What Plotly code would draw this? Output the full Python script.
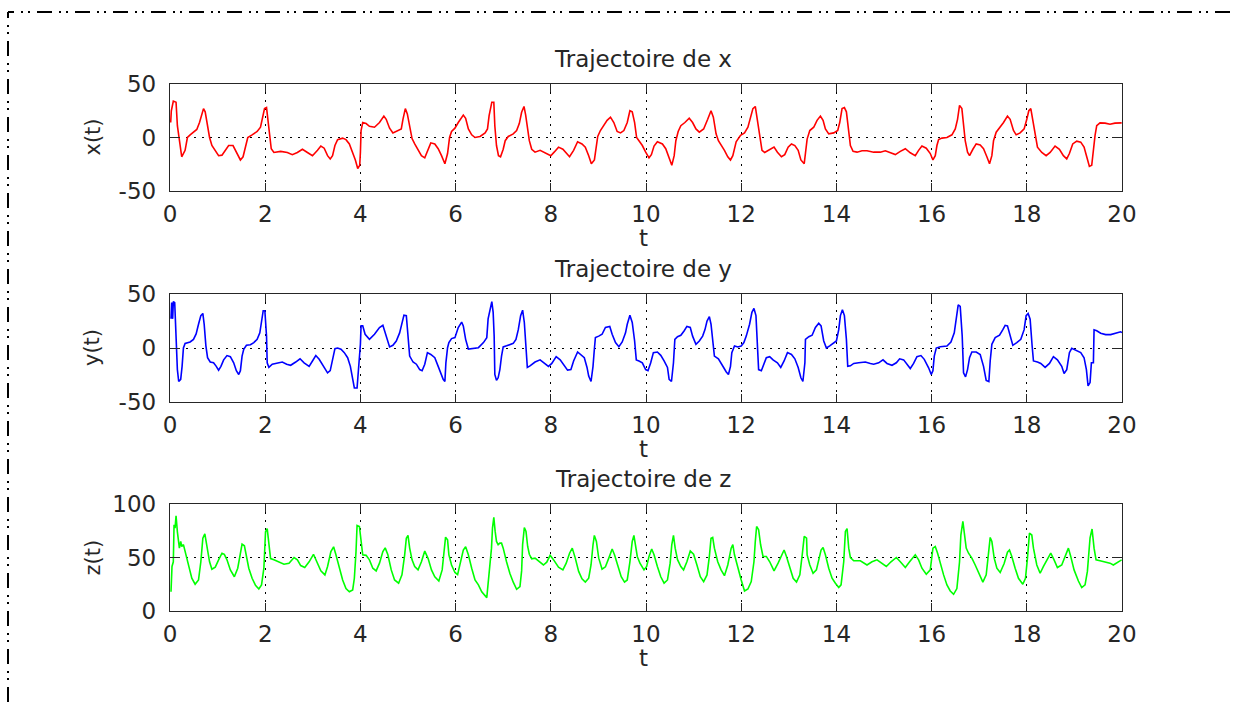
import plotly.graph_objects as go
from plotly.subplots import make_subplots

# ---- x(t) trajectory ----
t_x = [0.014, 0.028, 0.07, 0.127, 0.155, 0.197, 0.246, 0.317, 0.366, 0.423, 0.493, 0.563, 0.62, 0.669, 0.704,
       0.739, 0.775, 0.831, 0.88, 0.951, 1.021, 1.092, 1.162, 1.232, 1.324, 1.394, 1.479, 1.535, 1.592, 1.634,
       1.725, 1.831, 1.901, 1.944, 1.986, 2.028, 2.056, 2.099, 2.127, 2.183, 2.324, 2.465, 2.57, 2.676, 2.782,
       2.887, 2.993, 3.099, 3.169, 3.239, 3.31, 3.366, 3.415, 3.465, 3.521, 3.627, 3.697, 3.768, 3.838, 3.894,
       3.944, 3.986, 4.0, 4.014, 4.049, 4.12, 4.19, 4.296, 4.401, 4.493, 4.542, 4.613, 4.683, 4.789, 4.859,
       4.894, 4.944, 4.986, 5.035, 5.085, 5.141, 5.211, 5.282, 5.352, 5.408, 5.479, 5.563, 5.634, 5.704, 5.775,
       5.831, 5.873, 5.915, 5.986, 6.056, 6.162, 6.211, 6.268, 6.338, 6.408, 6.514, 6.62, 6.67, 6.704, 6.761,
       6.803, 6.824, 6.859, 6.901, 6.944, 7.0, 7.042, 7.106, 7.211, 7.282, 7.338, 7.387, 7.437, 7.472, 7.507,
       7.549, 7.599, 7.669, 7.775, 7.88, 8.0, 8.07, 8.162, 8.254, 8.324, 8.394, 8.479, 8.563, 8.655, 8.725,
       8.796, 8.852, 8.916, 8.958, 8.986, 9.042, 9.113, 9.183, 9.254, 9.324, 9.394, 9.465, 9.535, 9.606, 9.662,
       9.711, 9.761, 9.803, 9.852, 9.923, 9.993, 10.063, 10.113, 10.169, 10.239, 10.345, 10.415, 10.486, 10.542,
       10.592, 10.627, 10.676, 10.732, 10.817, 10.908, 10.979, 11.049, 11.12, 11.211, 11.296, 11.366, 11.415,
       11.472, 11.521, 11.592, 11.648, 11.718, 11.775, 11.824, 11.894, 11.986, 12.07, 12.141, 12.197, 12.246,
       12.296, 12.338, 12.387, 12.437, 12.493, 12.577, 12.69, 12.761, 12.845, 12.915, 12.986, 13.056, 13.127,
       13.197, 13.254, 13.324, 13.35, 13.385, 13.441, 13.524, 13.594, 13.664, 13.72, 13.769, 13.839, 13.944,
       14.028, 14.07, 14.119, 14.168, 14.21, 14.259, 14.294, 14.35, 14.434, 14.538, 14.643, 14.783, 14.923,
       15.028, 15.133, 15.238, 15.343, 15.448, 15.552, 15.657, 15.727, 15.797, 15.888, 15.972, 16.028, 16.077,
       16.112, 16.147, 16.217, 16.322, 16.427, 16.497, 16.545, 16.587, 16.636, 16.671, 16.706, 16.755, 16.797,
       16.867, 16.937, 17.021, 17.091, 17.161, 17.217, 17.266, 17.301, 17.357, 17.427, 17.511, 17.594, 17.65,
       17.72, 17.776, 17.86, 17.944, 18.0, 18.042, 18.084, 18.126, 18.175, 18.224, 18.315, 18.406, 18.49,
       18.594, 18.685, 18.769, 18.839, 18.895, 18.965, 19.049, 19.133, 19.203, 19.259, 19.315, 19.364, 19.399,
       19.434, 19.469, 19.538, 19.643, 19.748, 19.853, 19.993]
x_vals = [14, 25, 34, 33, 11, -5, -18, -12, 0, 2.5, 5, 7.5, 14, 21, 27,
          24, 14, 0, -7.5, -12, -17, -16.5, -12, -7.5, -7.5, -14, -21, -18, -9, 0,
          2.5, 5.6, 9.6, 19, 27, 28, 17, -1, -10.5, -14, -13, -14, -16, -14, -11,
          -14, -17, -12, -8, -10, -17, -20, -17, -7.5, -2, -0.6, -2, -6, -14, -21,
          -29, -26, -14, 6.5, 14, 13, 10.5, 9.6, 14, 20, 17, 8.7, 4.3, 6.5, 8,
          17, 27, 22, 11, -1, -6, -12, -17, -19, -12, -5, -6, -10.5, -17, -24.5,
          -15, 0, 5.6, 8.7, 14, 21, 18, 8, 2.5, 0, 1, 4.3, 8, 20.5, 33,
          33, 11, -7.5, -17, -18, -11, -3, 1, 3.4, 6.5, 13, 23.6, 29, 21, 8,
          -3, -11, -13.7, -12, -14.3, -17, -13.7, -9, -11, -15, -18, -12, -4, -6, -9,
          -17, -24.5, -21, -4, 1, 6.5, 11, 16, 19, 14, 5.6, 4.3, 6.5, 14, 25,
          24, 14, 0, -3, -7.5, -13.7, -19, -16, -8, -4, -6, -10.5, -20, -26,
          -17, -3, 5.6, 11, 14, 18, 14, 8, 5, 8, 17, 25, 19,
          3.4, -3, -7.5, -12, -18, -21, -17, -4, 2, 4.3, 9.6, 19, 27,
          29, 17, 2, -12, -14, -12, -9, -13.7, -18, -16, -9, -6, -7.5,
          -12, -21, -24.5, -14, -1.5, 6.5, 9.6, 16, 20, 16, 8, 3.4, 4.3,
          6.5, 14, 27, 28, 24, 3.4, -7.5, -13, -13.7, -12.4, -12.4, -13.7, -13.7,
          -12.4, -14.3, -16, -13, -10.5, -14.3, -17, -12, -8, -10, -15, -21, -17,
          -7.5, -2, -0.6, 0, 2.5, 8, 17, 30, 27, 14, -3, -13.7, -17,
          -11, -6, -7, -10.5, -18, -24.5, -17, -3, 5, 8.7, 14, 20, 17,
          6.5, 2.5, 4.3, 8, 17, 25, 27, 17, 2, -9, -14, -17, -14,
          -8, -11, -17, -20, -15, -6, -3.4, -4.3, -9, -18, -27, -26, -9,
          2, 11, 13.7, 13.4, 12.4, 13.4, 13.7]

# ---- y(t) trajectory ----
t_y = [0.021, 0.035, 0.056, 0.07, 0.099, 0.127, 0.155, 0.183, 0.225, 0.254, 0.282, 0.317, 0.423, 0.493, 0.549,
       0.599, 0.648, 0.69, 0.718, 0.754, 0.789, 0.845, 0.915, 0.972, 1.021, 1.07, 1.127, 1.197, 1.268, 1.338,
       1.394, 1.444, 1.479, 1.514, 1.549, 1.606, 1.69, 1.761, 1.831, 1.887, 1.923, 1.958, 1.993, 2.028, 2.042,
       2.077, 2.148, 2.254, 2.359, 2.451, 2.535, 2.641, 2.732, 2.817, 2.923, 2.993, 3.063, 3.134, 3.225, 3.31,
       3.366, 3.415, 3.465, 3.521, 3.592, 3.662, 3.732, 3.789, 3.838, 3.873, 3.93, 3.958, 4.0, 4.014, 4.049,
       4.099, 4.19, 4.296, 4.401, 4.472, 4.521, 4.613, 4.683, 4.754, 4.824, 4.873, 4.915, 4.965, 5.0, 5.035,
       5.106, 5.176, 5.246, 5.296, 5.352, 5.408, 5.479, 5.563, 5.634, 5.69, 5.739, 5.775, 5.796, 5.831, 5.859,
       5.915, 5.986, 6.056, 6.127, 6.162, 6.211, 6.268, 6.373, 6.479, 6.585, 6.655, 6.683, 6.718, 6.761, 6.789,
       6.81, 6.824, 6.859, 6.894, 6.93, 6.965, 7.0, 7.07, 7.155, 7.211, 7.268, 7.317, 7.366, 7.408, 7.444,
       7.479, 7.507, 7.563, 7.669, 7.775, 7.88, 7.951, 8.021, 8.113, 8.197, 8.282, 8.352, 8.423, 8.479, 8.563,
       8.634, 8.704, 8.761, 8.796, 8.845, 8.887, 8.915, 8.937, 9.007, 9.077, 9.148, 9.239, 9.289, 9.359, 9.43,
       9.5, 9.57, 9.606, 9.662, 9.711, 9.761, 9.796, 9.852, 9.923, 9.993, 10.042, 10.099, 10.155, 10.239, 10.31,
       10.38, 10.451, 10.486, 10.535, 10.577, 10.606, 10.662, 10.732, 10.803, 10.859, 10.93, 10.979, 11.049,
       11.12, 11.19, 11.239, 11.282, 11.331, 11.366, 11.401, 11.437, 11.521, 11.577, 11.634, 11.683, 11.732,
       11.775, 11.803, 11.859, 11.93, 12.0, 12.056, 12.106, 12.176, 12.225, 12.268, 12.31, 12.338, 12.366,
       12.423, 12.479, 12.528, 12.599, 12.669, 12.761, 12.831, 12.901, 12.972, 13.056, 13.127, 13.197, 13.254,
       13.296, 13.338, 13.35, 13.42, 13.49, 13.559, 13.629, 13.678, 13.734, 13.79, 13.86, 13.944, 14.0, 14.049,
       14.084, 14.126, 14.168, 14.21, 14.238, 14.294, 14.364, 14.469, 14.608, 14.713, 14.783, 14.888, 14.979,
       15.063, 15.168, 15.259, 15.329, 15.413, 15.483, 15.552, 15.622, 15.692, 15.776, 15.846, 15.937, 15.993,
       16.028, 16.056, 16.098, 16.182, 16.322, 16.406, 16.476, 16.517, 16.559, 16.601, 16.643, 16.671, 16.713,
       16.755, 16.797, 16.846, 16.937, 17.021, 17.091, 17.147, 17.203, 17.231, 17.266, 17.336, 17.427, 17.497,
       17.545, 17.594, 17.65, 17.706, 17.79, 17.874, 17.944, 17.986, 18.028, 18.07, 18.112, 18.14, 18.224,
       18.294, 18.385, 18.476, 18.559, 18.643, 18.734, 18.783, 18.839, 18.895, 18.944, 19.035, 19.133, 19.203,
       19.252, 19.287, 19.329, 19.357, 19.399, 19.413, 19.469, 19.552, 19.657, 19.762, 19.867, 19.972, 20.0]
y_vals = [27, 42, 27, 43, 42, 11, -20, -31, -29, -17, 0, 4.3, 5.6, 8, 13,
          22, 30, 32, 22, 2, -9, -13, -13.7, -17, -20.5, -17, -11, -7, -8, -13.7,
          -21, -24.5, -21, -7.5, -1.2, 2.5, 3, 5, 8, 14, 23.6, 34.5, 34.5, 11, -13.7,
          -18, -15, -13.7, -13, -15, -16, -13, -10, -13.7, -17, -12, -7, -10.5, -17, -23,
          -21, -12, -0.6, 0, -1.2, -4.3, -9, -17, -27.6, -37, -37, -23, 3.4, 20.5, 20.5,
          12.7, 8, 12.7, 19, 21, 14, 1, 2.5, 6.5, 14, 24, 30.4, 30, 11, -7.5,
          -13, -15, -20, -21, -15, -4.3, -6, -9, -17, -23, -29, -31, -13.7, 0.3, 5,
          8.7, 9.6, 19, 24, 20.5, 8, -1, -0.6, 0.3, 5, 9.6, 27, 34.5, 43, 33,
          11, -24.5, -30, -27.6, -20, -7.5, 1, 2, 3.1, 4.3, 8, 17, 30, 35, 23.6,
          -4.3, -18, -16.5, -13, -11, -14.3, -17, -14.3, -8, -11, -16.8, -20.5, -20, -12, -3.7,
          -6, -9, -18, -26, -31, -17, -1.2, 9.6, 11, 12.7, 19, 20, 12.7, 5, 1.2,
          5.6, 14, 22, 30.4, 23.6, 6.5, -11, -12, -13.7, -20, -21, -13.7, -4.3, -3.7, -6.8,
          -12, -18, -29, -31, -13.7, 8, 10.5, 11.8, 16, 20, 19, 11, 3.4,
          6.5, 11, 17, 25, 29, 22, 6.5, -7.5, -10, -13.7, -18.3, -22, -24.5,
          -17, -4.3, 1.9, 0.9, 1.9, 5, 11, 22, 33, 36.6, 30, -4.3, -20,
          -21, -15, -9, -8, -11, -13.7, -18, -12, -4.3, -6, -10, -18, -27.6,
          -31, -13.7, 8, 10.5, 11.8, 19, 23, 20.5, 6.5, 0, 1.9, 5, 6.5, 17,
          30, 35.4, 30, 8, -17, -16.5, -14.3, -13.7, -13, -14.3, -15, -13.7, -11,
          -14.3, -16, -13.7, -10, -11, -15, -19, -14.3, -8, -7, -10.5, -18.3, -24.5,
          -21, -7.5, 0, 1.2, 1.9, 5.6, 14, 26.7, 40, 38.5, 11, -23, -26.7,
          -20, -9, -3.7, -3.7, -6, -17, -30, -31, -12, 3.4, 9.6, 11.8, 17,
          21, 20.5, 11, 2.5, 5, 8, 17, 30, 32, 26.7, 1.9, -12, -13,
          -14.3, -18, -14.3, -8, -11, -17, -23.6, -20, -4.3, -0.3, -1.9, -4.3, -9,
          -20, -35, -32, -13.7, -13.7, 16.8, 16, 13.7, 12.4, 12.4, 13.7, 15, 14.3]

# ---- z(t) trajectory ----
t_z = [0.021, 0.042, 0.07, 0.085, 0.106, 0.127, 0.155, 0.176, 0.197, 0.225, 0.246, 0.282, 0.317, 0.387, 0.458,
       0.528, 0.599, 0.648, 0.69, 0.732, 0.775, 0.831, 0.88, 0.951, 1.021, 1.092, 1.141, 1.197, 1.268, 1.352,
       1.423, 1.479, 1.514, 1.563, 1.606, 1.655, 1.725, 1.796, 1.866, 1.923, 1.972, 2.007, 2.042, 2.077, 2.113,
       2.183, 2.289, 2.394, 2.5, 2.606, 2.676, 2.746, 2.831, 2.923, 3.014, 3.085, 3.169, 3.254, 3.31, 3.38,
       3.437, 3.486, 3.556, 3.627, 3.697, 3.768, 3.838, 3.873, 3.908, 3.93, 3.979, 4.014, 4.049, 4.12, 4.19,
       4.261, 4.331, 4.401, 4.472, 4.521, 4.577, 4.648, 4.718, 4.803, 4.873, 4.93, 4.965, 5.0, 5.035, 5.085,
       5.141, 5.211, 5.282, 5.352, 5.423, 5.493, 5.563, 5.648, 5.718, 5.761, 5.789, 5.831, 5.859, 5.915, 5.986,
       6.042, 6.092, 6.162, 6.211, 6.268, 6.338, 6.408, 6.479, 6.549, 6.655, 6.704, 6.754, 6.775, 6.803, 6.831,
       6.859, 6.894, 6.93, 6.965, 7.0, 7.07, 7.141, 7.211, 7.282, 7.352, 7.387, 7.408, 7.444, 7.479, 7.514,
       7.549, 7.599, 7.669, 7.775, 7.845, 7.915, 7.986, 8.056, 8.162, 8.254, 8.324, 8.394, 8.451, 8.514, 8.585,
       8.655, 8.725, 8.796, 8.845, 8.887, 8.915, 8.958, 9.007, 9.077, 9.148, 9.218, 9.289, 9.338, 9.408, 9.479,
       9.549, 9.606, 9.662, 9.711, 9.746, 9.782, 9.817, 9.873, 9.958, 10.014, 10.063, 10.12, 10.169, 10.239,
       10.31, 10.38, 10.451, 10.507, 10.542, 10.577, 10.613, 10.662, 10.732, 10.789, 10.859, 10.93, 11.0, 11.07,
       11.141, 11.211, 11.282, 11.331, 11.366, 11.401, 11.437, 11.507, 11.577, 11.648, 11.718, 11.789, 11.824,
       11.859, 11.93, 12.0, 12.07, 12.141, 12.211, 12.268, 12.296, 12.324, 12.366, 12.408, 12.458, 12.528,
       12.599, 12.69, 12.775, 12.845, 12.901, 12.951, 13.021, 13.092, 13.162, 13.232, 13.282, 13.324, 13.373,
       13.385, 13.441, 13.51, 13.58, 13.629, 13.678, 13.72, 13.769, 13.839, 13.909, 13.979, 14.049, 14.098,
       14.154, 14.189, 14.224, 14.259, 14.294, 14.364, 14.503, 14.643, 14.748, 14.853, 14.958, 15.049, 15.147,
       15.259, 15.343, 15.448, 15.538, 15.657, 15.727, 15.797, 15.888, 15.972, 16.028, 16.077, 16.126, 16.182,
       16.252, 16.322, 16.392, 16.462, 16.531, 16.587, 16.615, 16.657, 16.685, 16.727, 16.776, 16.846, 16.916,
       16.986, 17.077, 17.147, 17.196, 17.231, 17.266, 17.315, 17.371, 17.441, 17.524, 17.594, 17.636, 17.685,
       17.755, 17.825, 17.916, 17.972, 18.014, 18.056, 18.105, 18.14, 18.21, 18.28, 18.35, 18.42, 18.503,
       18.573, 18.643, 18.734, 18.825, 18.874, 18.923, 18.993, 19.084, 19.154, 19.224, 19.273, 19.329, 19.371,
       19.413, 19.455, 19.538, 19.643, 19.748, 19.818, 19.923, 19.993]
z_vals = [18, 41.6, 46, 80.6, 77.5, 89, 74, 62, 58.8, 65, 60.3, 62, 55.6, 41.6, 30.6,
          25, 29, 46, 68, 72, 59, 46, 39, 41, 47.8, 54, 53, 47.8, 38.4, 32,
          40, 55.6, 62.5, 61, 50.6, 40, 30.6, 24, 20.6, 24.4, 40, 74, 77, 65, 49,
          47.8, 45.6, 43.75, 44.7, 50, 47.8, 42.5, 40.6, 46, 53, 46, 37.5, 33.75, 41.6, 55.6,
          60, 52.5, 40, 29, 21, 18, 19.7, 30.6, 55.6, 80, 79, 65, 52.5, 52, 47.8,
          40, 37.5, 44.7, 55.6, 59, 52.5, 38.4, 29, 26, 33.75, 52.5, 68, 70.6, 58.8, 47.8,
          41.6, 38.4, 46, 56, 49, 38.4, 32, 28, 38.4, 57, 69, 66.5, 52.5, 43, 36,
          34, 44.4, 57, 60, 52.5, 40, 29, 24.4, 18, 12.5, 33.75, 58.75, 77.5, 87.5, 74.4,
          65, 62, 63.4, 63.4, 58.75, 46, 35, 26.9, 20.3, 22.8, 37.5, 62, 78, 74.4, 60.3,
          53, 48.75, 49.4, 46, 43, 45.6, 52, 48, 40.9, 38.4, 44.7, 54, 58.75, 49.4, 37,
          30, 27, 30.6, 43, 61.9, 70.6, 65, 49.4, 39, 41.25, 49.4, 58, 52.5, 41.6, 32,
          27, 29, 46, 65, 70.6, 62, 51, 44.7, 38.4, 41.6, 51, 58, 52.5, 41.6,
          32, 26, 29, 44.7, 62, 70.6, 58.75, 48, 41.6, 38.4, 46, 56, 53, 43,
          32, 27.5, 33.75, 51, 68, 68.75, 58.75, 46, 38.4, 33, 43, 58.75, 62,
          52.5, 40, 29, 18.75, 20.6, 27.5, 46, 65, 79, 76, 61.9, 51, 51,
          46, 37.5, 44.7, 52.5, 57, 51, 40, 30.6, 27, 33.75, 52.5, 69.7, 68,
          52.5, 43, 35.3, 38.4, 47.8, 57, 59.4, 52.5, 40, 30.6, 26, 21.9, 24.4,
          46, 74.4, 77, 58.75, 50, 46.9, 46.9, 43, 46, 47.8, 44.7, 41.6, 46,
          50, 46, 40.6, 46, 52.5, 47.8, 40, 34.4, 38.4, 58.75, 60.3, 54, 44.7,
          33.75, 24.4, 18.75, 15.6, 21, 46, 71, 83.75, 74.4, 58.75, 54, 49.4, 43,
          35.3, 27, 33.75, 55.6, 68.75, 65, 49.4, 40, 36, 44.4, 55, 57, 51,
          40, 30.6, 25, 30.6, 49.4, 72.8, 71, 58.75, 43, 35.3, 41.6, 47.8, 54,
          47.8, 40.6, 43, 54, 58.75, 51, 38.4, 28, 21.9, 24.4, 37, 68.4, 76.6,
          58.75, 47.8, 46.9, 46, 44.7, 43, 46, 47.8]

# ---- axis ticks and labels ----
t_ticks = [0, 2, 4, 6, 8, 10, 12, 14, 16, 18, 20]
xy_ticks = [-50, 0, 50]
z_ticks = [0, 50, 100]
titles = ["Trajectoire de x", "Trajectoire de y", "Trajectoire de z"]
ylabels = ["x(t)", "y(t)", "z(t)"]
colors = ["#ff0000", "#0000ff", "#00ff00"]

FONT = "DejaVu Sans"
FS = 23
INK = "#262626"
W, H = 1235, 709
ML, MR, MT, MB = 170, 113, 84, 98
PW, PH = W - ML - MR, H - MT - MB


def px_x(p):
    return (p - ML) / PW


def px_y(p):
    return (H - MB - p) / PH


fig = make_subplots(rows=3, cols=1)
series = [(t_x, x_vals), (t_y, y_vals), (t_z, z_vals)]
for i, (tt, vv) in enumerate(series):
    fig.add_trace(go.Scatter(x=tt, y=vv, mode="lines",
                             line=dict(color=colors[i], width=1.6),
                             showlegend=False, hoverinfo="skip"),
                  row=i + 1, col=1)

# pixel boxes of the three panels (top, bottom)
boxes = [(84, 191), (294, 402), (504, 611)]
common = dict(showline=True, linecolor=INK, linewidth=1.4, mirror="ticks",
              ticks="inside", tickcolor=INK, tickwidth=1.4,
              showgrid=True, gridcolor="#000000", gridwidth=1, griddash="2px,6px",
              zeroline=False,
              tickfont=dict(family=FONT, size=FS, color=INK))
for i in range(3):
    top, bot = boxes[i]
    xa = "xaxis" if i == 0 else f"xaxis{i + 1}"
    ya = "yaxis" if i == 0 else f"yaxis{i + 1}"
    fig.layout[xa].update(domain=[0, 1], range=[0, 20], tickvals=t_ticks,
                          ticktext=[str(v) for v in t_ticks], ticklen=8,
                          ticklabelstandoff=2, **common)
    yt = z_ticks if i == 2 else xy_ticks
    fig.layout[ya].update(domain=[px_y(bot), px_y(top)], range=[yt[0], yt[-1]],
                          tickvals=yt, ticktext=[str(v) for v in yt], ticklen=10,
                          ticklabelstandoff=8, **common)

annotations = []
for i in range(3):
    top, bot = boxes[i]
    annotations.append(dict(text=titles[i], x=px_x(643), y=px_y(top - 25), xref="paper", yref="paper",
                            showarrow=False, xanchor="center", yanchor="middle",
                            font=dict(family=FONT, size=FS, color=INK)))
    annotations.append(dict(text="t", x=px_x(643), y=px_y(bot + 47), xref="paper", yref="paper",
                            showarrow=False, xanchor="center", yanchor="middle",
                            font=dict(family=FONT, size=FS, color=INK)))
    annotations.append(dict(text=ylabels[i], x=px_x(92), y=px_y((top + bot) / 2), xref="paper",
                            yref="paper", showarrow=False, textangle=-90,
                            xanchor="center", yanchor="middle",
                            font=dict(family=FONT, size=FS - 2, color=INK)))

# dash-dot frame around the figure
frame_dash = "6px,7px,2px,5px,2px,7px,9px,0px"
shapes = [
    dict(type="line", xref="paper", yref="paper", x0=px_x(8), x1=px_x(1245), y0=px_y(12), y1=px_y(12),
         line=dict(color="#000000", width=2, dash=frame_dash)),
    dict(type="line", xref="paper", yref="paper", x0=px_x(8), x1=px_x(8), y0=px_y(12), y1=px_y(720),
         line=dict(color="#000000", width=2, dash=frame_dash)),
]

fig.update_layout(width=W, height=H, margin=dict(l=ML, r=MR, t=MT, b=MB),
                  paper_bgcolor="white", plot_bgcolor="white",
                  annotations=annotations, shapes=shapes, showlegend=False)

fig.write_html("out.html")
